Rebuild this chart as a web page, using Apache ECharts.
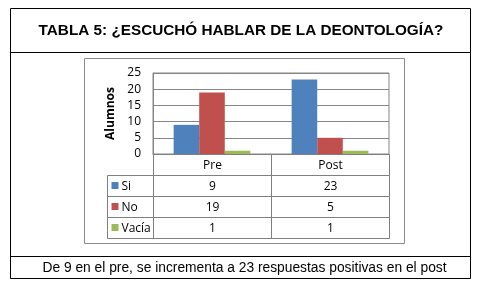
<!DOCTYPE html>
<html>
<head>
<meta charset="utf-8">
<script src="https://cdn.jsdelivr.net/npm/echarts@6/dist/echarts.min.js"></script>
<style>
  html, body { margin: 0; padding: 0; background: #fff; }
  #chart { width: 482px; height: 285px; }
</style>
</head>
<body>
<div id="chart"></div>
<script>
// datos
const categorias = ['Pre', 'Post']
const serieNombres = ['Si', 'No', 'Vacía']
const valoresSi = [9, 23]
const valoresNo = [19, 5]
const valoresVacia = [1, 1]
const colores = ['#4F81BD', '#C0504D', '#9BBB59']
const titulo = 'TABLA 5: ¿ESCUCHÓ HABLAR DE LA DEONTOLOGÍA?'
const pie = 'De 9 en el pre, se incrementa a 23 respuestas positivas en el post'

const valores = [valoresSi, valoresNo, valoresVacia]
const lineaTabla = '#7f7f7f'
const fuente = 'Open Sans'

// celdas de la tabla de datos: [col, fila]
const celdas = []
categorias.forEach((c, i) => celdas.push({ value: [i, 0], text: c, kind: 'head' }))
serieNombres.forEach((s, r) => {
  categorias.forEach((c, i) => {
    celdas.push({ value: [i, r + 1], text: String(valores[r][i]), kind: 'val', row: r })
  })
})

function renderCelda (params, api) {
  const cell = celdas[params.dataIndex]
  const p = api.coord([api.value(0), api.value(1)])
  const sz = api.size([1, 1])
  const x0 = Math.round(p[0] - sz[0] / 2) + 0.5
  const y0 = Math.round(p[1] - sz[1] / 2) + 0.5
  const w = Math.round(sz[0])
  const h = Math.round(sz[1])
  const children = [
    { type: 'rect', shape: { x: x0, y: y0, width: w, height: h },
      style: { fill: 'none', stroke: lineaTabla, lineWidth: 1 } },
    { type: 'text', style: { x: x0 + w / 2, y: y0 + h / 2 + 1, text: cell.text,
      fill: '#000', font: '12px "' + fuente + '"', align: 'center', verticalAlign: 'middle' } }
  ]
  // columna de leyenda a la izquierda
  if (cell.kind === 'val' && api.value(0) === 0) {
    const lw = 46
    children.push(
      { type: 'rect', shape: { x: x0 - lw, y: y0, width: lw, height: h },
        style: { fill: 'none', stroke: lineaTabla, lineWidth: 1 } },
      { type: 'rect', shape: { x: x0 - lw + 4, y: y0 + h / 2 - 4, width: 7, height: 7 },
        style: { fill: colores[cell.row] } },
      { type: 'text', style: { x: x0 - lw + 14, y: y0 + h / 2 + 1, text: serieNombres[cell.row],
        fill: '#000', font: '12px "' + fuente + '"', align: 'left', verticalAlign: 'middle' } }
    )
  }
  return { type: 'group', children }
}

const chart = echarts.init(document.getElementById('chart'))
chart.setOption({
  animation: false,
  textStyle: { fontFamily: fuente },
  graphic: [
    { type: 'rect', shape: { x: 10.5, y: 8.5, width: 460, height: 270 },
      style: { fill: 'none', stroke: '#000', lineWidth: 1 } },
    { type: 'line', shape: { x1: 10.5, y1: 52.5, x2: 470.5, y2: 52.5 }, style: { stroke: '#000' } },
    { type: 'line', shape: { x1: 10.5, y1: 256.5, x2: 470.5, y2: 256.5 }, style: { stroke: '#000' } },
    { type: 'rect', shape: { x: 84.5, y: 58.5, width: 320, height: 185 },
      style: { fill: 'none', stroke: '#8a8a8a', lineWidth: 1 } },
    { type: 'text', style: { x: 241, y: 31, text: titulo, align: 'center', verticalAlign: 'middle',
      font: 'bold 15.3px "Liberation Sans"', fill: '#000' } },
    { type: 'text', style: { x: 244.5, y: 268, text: pie, align: 'center', verticalAlign: 'middle',
      font: '13.8px "Liberation Sans"', fill: '#000' } }
  ],
  grid: [
    { left: 153, right: 93, top: 73, bottom: 131, show: true, borderColor: '#868686', borderWidth: 1 },
    { left: 153, right: 93, top: 154, bottom: 47 }
  ],
  xAxis: [
    { type: 'category', gridIndex: 0, data: categorias,
      axisLine: { lineStyle: { color: '#868686' } },
      axisTick: { show: false }, axisLabel: { show: false } },
    { type: 'category', gridIndex: 1, data: categorias, show: false }
  ],
  yAxis: [
    { type: 'value', gridIndex: 0, min: 0, max: 25, interval: 5,
      name: 'Alumnos', nameLocation: 'middle', nameRotate: 90, nameGap: 36,
      nameTextStyle: { fontWeight: 'bold', fontSize: 12, color: '#000' },
      axisLine: { show: true, lineStyle: { color: '#868686' } },
      axisTick: { show: false },
      axisLabel: { color: '#000', fontSize: 12, margin: 12 },
      splitLine: { lineStyle: { color: '#868686' } } },
    { type: 'category', gridIndex: 1, inverse: true, data: ['', ...serieNombres], show: false }
  ],
  series: [
    ...serieNombres.map((s, i) => ({
      name: s, type: 'bar', xAxisIndex: 0, yAxisIndex: 0,
      data: valores[i], barGap: '0%', barCategoryGap: '35%',
      itemStyle: { color: colores[i] }
    })),
    { type: 'custom', xAxisIndex: 1, yAxisIndex: 1, renderItem: renderCelda,
      data: celdas.map(c => c.value), clip: false }
  ]
})
</script>
</body>
</html>
